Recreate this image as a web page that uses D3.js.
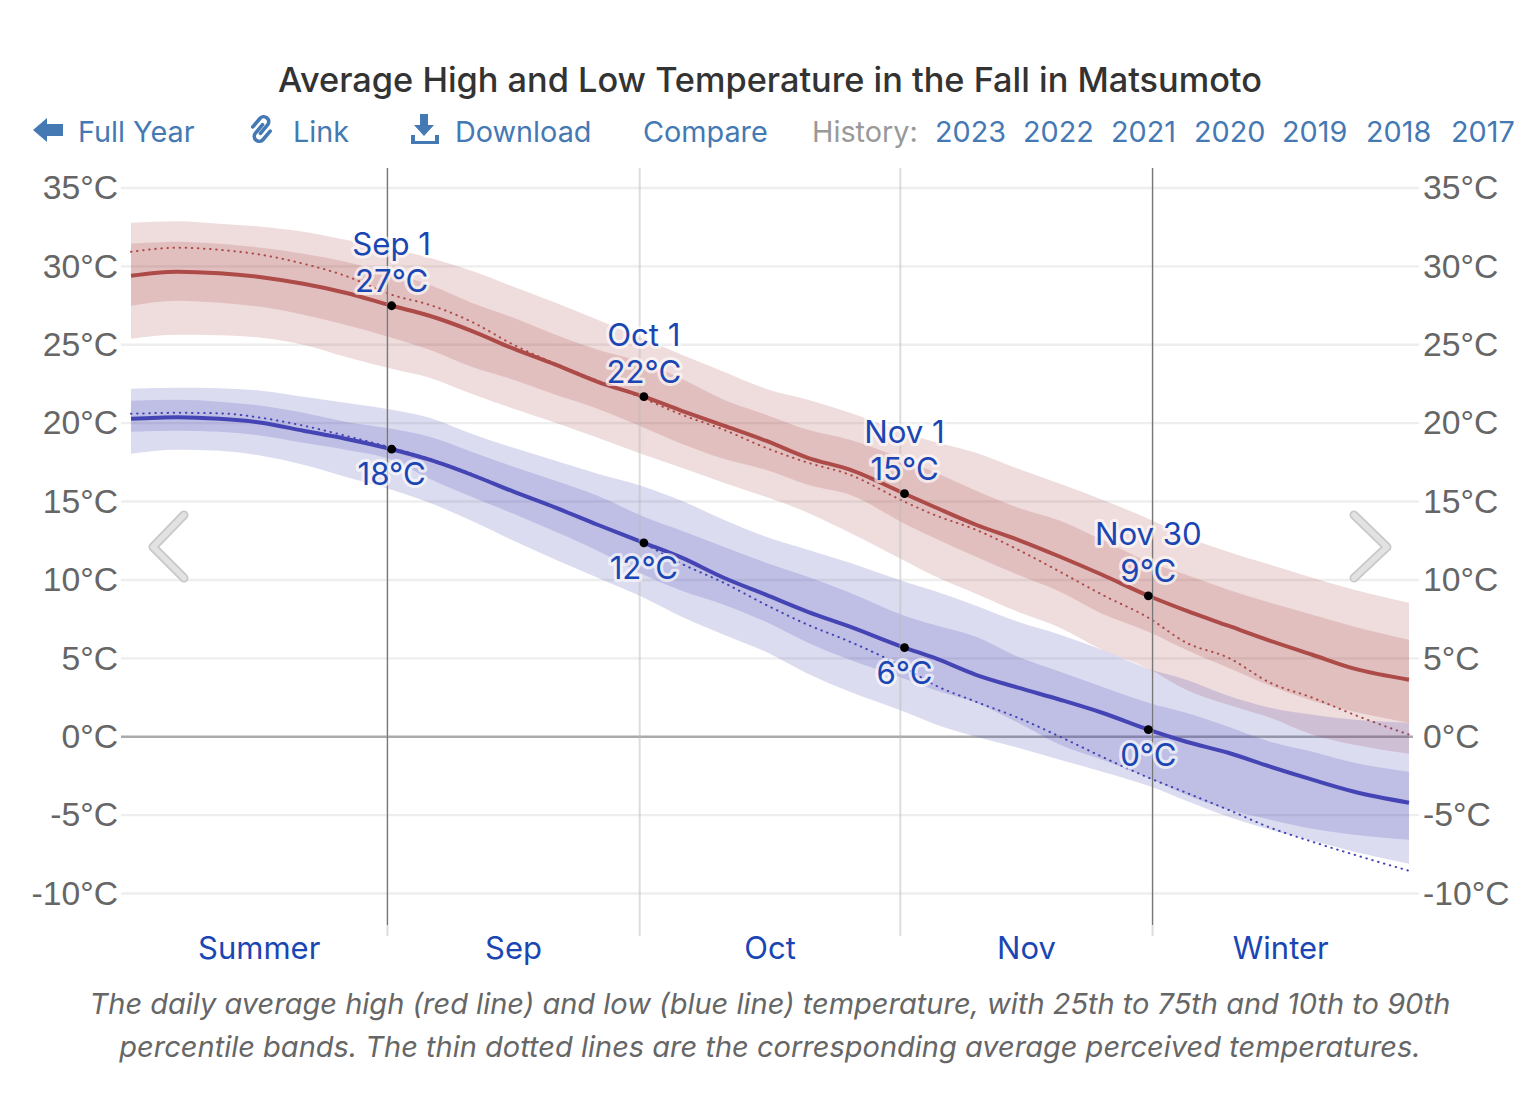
<!DOCTYPE html>
<html>
<head>
<meta charset="utf-8">
<script src="https://cdn.jsdelivr.net/npm/d3@7"></script>
<style>
  body { margin: 0; background: #fff; }
  svg { display: block; font-family: Inter, Roboto, sans-serif; }
  .tick text { fill: #666; font-size: 33.7px; }
  .domain { display: none; }
  .nav { fill: #4479b4; font-size: 28.8px; }
  .note { fill: #1a46b4; font-size: 31.2px; text-anchor: middle; paint-order: stroke; stroke: rgba(255,255,255,.65); stroke-width: 6px; stroke-linejoin: round; }
  .month { fill: #1a46b4; font-size: 31px; text-anchor: middle; }
  .caption { fill: #666; font-size: 29px; font-style: italic; text-anchor: middle; }
</style>
</head>
<body>
<svg id="chart" width="1522" height="1104"></svg>
<script>
// days counted from Sep 1
const days = [-30.5,-25,-20,-15,-10,-5,0.5,5,10,15,20,25,30.5,35,40,45,50,55,61.5,65,70,75,80,85,90.5,95,100,105,110,115,121.5];

const highAvg = [29.40,29.66,29.56,29.31,28.89,28.32,27.49,26.85,25.89,24.75,23.73,22.64,21.69,20.79,19.84,18.88,17.79,17.03,15.50,14.67,13.52,12.56,11.48,10.33,8.99,8.04,7.08,6.12,5.23,4.34,3.64];
const highP75 = [31.44,31.57,31.44,31.19,30.81,30.30,29.53,28.83,27.68,26.72,25.64,24.68,23.85,22.83,21.49,20.54,19.58,18.94,17.67,16.90,15.69,14.61,13.78,12.56,11.16,10.33,9.38,8.55,7.78,7.02,6.19];
const highP90 = [32.78,32.88,32.72,32.53,32.21,31.70,31.13,30.55,29.72,28.70,27.68,26.60,25.38,24.36,23.28,22.20,21.49,20.66,19.39,18.81,18.11,17.09,16.14,15.12,13.90,12.76,11.80,10.97,10.14,9.38,8.55];
const highP25 = [27.49,27.81,27.68,27.42,26.92,26.28,25.45,24.68,23.60,22.77,21.81,20.92,19.71,18.69,17.73,17.03,16.07,15.43,13.59,12.69,11.48,10.33,9.25,7.84,6.70,5.55,4.40,3.25,2.30,1.59,0.89];
const highP10 = [25.38,25.64,25.61,25.45,25.00,24.24,23.47,22.90,21.88,20.92,20.03,19.07,17.99,17.16,16.20,15.30,14.29,13.01,11.23,10.27,9.12,7.97,6.95,5.55,4.34,3.00,2.04,1.21,0.13,-0.51,-1.08];
const highFeel = [30.93,31.19,31.06,30.74,30.17,29.40,28.19,27.55,26.47,25.00,23.79,22.71,21.56,20.54,19.58,18.43,17.48,16.71,14.99,14.16,13.20,11.93,10.52,9.06,7.59,6.00,5.04,3.44,2.49,1.40,0.13];

const lowAvg = [20.28,20.38,20.28,20.03,19.52,19.01,18.34,17.67,16.71,15.63,14.61,13.52,12.37,11.42,10.14,9.06,7.97,7.02,5.68,5.04,3.95,3.13,2.36,1.53,0.45,-0.32,-1.02,-1.91,-2.74,-3.51,-4.21];
const lowP75 = [21.43,21.49,21.37,21.11,20.66,20.09,19.64,19.13,18.18,17.22,16.33,15.37,14.03,13.14,12.12,11.10,10.20,9.18,7.72,7.14,6.38,5.10,4.15,3.19,2.17,1.53,0.64,-0.32,-0.96,-1.66,-2.23];
const lowP90 = [22.20,22.26,22.23,22.07,21.69,21.30,20.86,20.35,19.33,18.43,17.60,16.77,15.95,15.05,13.84,12.76,11.93,11.10,9.89,9.31,8.36,7.33,6.51,5.55,4.34,3.64,2.61,1.85,1.40,1.08,0.89];
const lowP25 = [19.45,19.52,19.45,19.20,18.75,18.31,17.67,16.46,15.31,14.22,13.07,11.86,10.33,9.31,8.42,7.33,6.00,4.91,3.70,3.00,2.17,0.89,-0.51,-1.47,-2.61,-3.70,-4.66,-5.29,-5.87,-6.25,-6.57];
const lowP10 = [18.05,18.31,18.24,17.92,17.35,16.58,15.75,14.92,13.78,12.50,11.29,10.14,8.87,7.65,6.51,5.42,4.02,2.87,1.59,0.83,0,-0.70,-1.47,-2.23,-3.13,-4.08,-5.10,-5.93,-6.63,-7.33,-8.10];
const lowFeel = [20.60,20.66,20.63,20.34,19.84,19.20,18.43,17.73,16.77,15.63,14.61,13.52,12.31,11.03,9.82,8.42,7.14,6.06,4.40,3.32,2.23,1.21,0,-1.28,-2.61,-3.57,-4.66,-5.80,-6.70,-7.53,-8.55];

const tempTicks = [35,30,25,20,15,10,5,0,-5,-10];
const monthEdges = [-30.5,0,30,61,91,121.5];
const monthNames = ['Summer','Sep','Oct','Nov','Winter'];
const noteDays = [0.5,30.5,61.5,90.5];
const noteDates = ['Sep 1','Oct 1','Nov 1','Nov 30'];
const noteHighs = [27.49,21.69,15.50,8.99];
const noteLows = [18.34,12.37,5.68,0.45];
const noteHighText = ['27°C','22°C','15°C','9°C'];
const noteLowText = ['18°C','12°C','6°C','0°C'];
const years = [2023,2022,2021,2020,2019,2018,2017];
const yearX = [935,1023,1111,1194,1282,1366,1451];

const svg = d3.select('#chart');
const x = d3.scaleLinear().domain([-30.5,121.5]).range([131,1409]);
const y = d3.scaleLinear().domain([35,-10]).range([188,893.5]);

const fmt = (d) => `${d}°C`;

// grid
svg.append('g').selectAll('line').data(tempTicks).join('line')
    .attr('x1', 121).attr('x2', (d) => d === 0 ? 1413 : 1419)
    .attr('y1', (d) => y(d)).attr('y2', (d) => y(d))
    .attr('stroke', (d) => d === 0 ? '#aaa' : '#eee')
    .attr('stroke-width', 2.4);

const area = (lo, hi) => d3.area()
    .x((d) => x(d))
    .y0((d, i) => y(lo[i]))
    .y1((d, i) => y(hi[i]))
    .curve(d3.curveMonotoneX)(days);
const line = (vals) => d3.line()
    .x((d) => x(d))
    .y((d, i) => y(vals[i]))
    .curve(d3.curveMonotoneX)(days);

function drawSeries(color, lineColor, avg, p25, p75, p10, p90, feel) {
    svg.append('path').attr('d', area(p10, p90)).attr('fill', color).attr('fill-opacity', 0.18);
    svg.append('path').attr('d', area(p25, p75)).attr('fill', color).attr('fill-opacity', 0.18);
    svg.append('path').attr('d', line(feel)).attr('fill', 'none').attr('stroke', lineColor)
        .attr('stroke-width', 2).attr('stroke-linecap', 'round').attr('stroke-dasharray', '0.5 5.6');
    svg.append('path').attr('d', line(avg)).attr('fill', 'none').attr('stroke', lineColor).attr('stroke-width', 4);
}
drawSeries('#a83c3c', '#ad4b48', highAvg, highP25, highP75, highP10, highP90, highFeel);
drawSeries('#3c3cb4', '#4444b4', lowAvg, lowP25, lowP75, lowP10, lowP90, lowFeel);

// month dividers, outer two are darker
const dividers = monthEdges.slice(1, -1);
svg.append('g').selectAll('line').data(dividers).join('line')
    .attr('x1', (d) => x(d)).attr('x2', (d) => x(d))
    .attr('y1', 168).attr('y2', 936)
    .attr('stroke', '#bbb').attr('stroke-opacity', 0.5).attr('stroke-width', 2);
svg.append('g').selectAll('line').data([dividers[0], dividers[3]]).join('line')
    .attr('x1', (d) => x(d)).attr('x2', (d) => x(d))
    .attr('y1', 168).attr('y2', 925)
    .attr('stroke', '#777').attr('stroke-width', 1.2);

// axes
svg.append('g').attr('transform', 'translate(118,0)')
    .call(d3.axisLeft(y).tickValues(tempTicks).tickSize(0).tickPadding(0).tickFormat(fmt));
svg.append('g').attr('transform', 'translate(1423,0)')
    .call(d3.axisRight(y).tickValues(tempTicks).tickSize(0).tickPadding(0).tickFormat(fmt));

svg.append('g').selectAll('text').data(monthNames).join('text')
    .attr('class', 'month')
    .attr('x', (d, i) => x((monthEdges[i] + monthEdges[i + 1]) / 2))
    .attr('y', 959)
    .text((d) => d);

// points and their labels
const points = svg.append('g');
[noteHighs, noteLows].forEach((vals) => {
    points.selectAll(null).data(noteDays).join('circle')
        .attr('cx', (d) => x(d))
        .attr('cy', (d, i) => y(vals[i]))
        .attr('r', 4.4)
        .attr('fill', '#000');
});
noteDays.forEach((d, i) => {
    const cx = x(d);
    points.append('text').attr('class', 'note').attr('x', cx).attr('y', y(noteHighs[i]) - 51).text(noteDates[i]);
    points.append('text').attr('class', 'note').attr('x', cx).attr('y', y(noteHighs[i]) - 14).text(noteHighText[i]);
    points.append('text').attr('class', 'note').attr('x', cx).attr('y', y(noteLows[i]) + 36).text(noteLowText[i]);
});

// prev / next arrows
const chevrons = [[[184,515],[153,547],[184,578]], [[1354,515],[1387,547],[1354,578]]];
chevrons.forEach((c) => {
    const p = d3.line()(c);
    svg.append('path').attr('d', p).attr('fill', 'none').attr('stroke', '#c8c8c8').attr('stroke-width', 9).attr('stroke-linecap', 'round').attr('stroke-linejoin', 'round');
    svg.append('path').attr('d', p).attr('fill', 'none').attr('stroke', '#e2e2e2').attr('stroke-width', 5.5).attr('stroke-linecap', 'round').attr('stroke-linejoin', 'round');
});

// title and toolbar
svg.append('text').attr('x', 770).attr('y', 92).attr('text-anchor', 'middle')
    .attr('fill', '#333').attr('font-size', 34.3).attr('font-weight', 500)
    .text('Average High and Low Temperature in the Fall in Matsumoto');

const navY = 142;
[['Full Year', 78], ['Link', 293], ['Download', 455], ['Compare', 643]].forEach(([t, px]) => {
    svg.append('text').attr('class', 'nav').attr('x', px).attr('y', navY).text(t);
});
svg.append('text').attr('class', 'nav').attr('x', 812).attr('y', navY).style('fill', '#999').text('History:');
svg.append('g').selectAll('text').data(years).join('text')
    .attr('class', 'nav')
    .attr('x', (d, i) => yearX[i]).attr('y', navY)
    .text((d) => d);

const icons = svg.append('g').attr('fill', '#4479b4');
icons.append('path').attr('d', 'M33 130 L47 118 L47 124 L63 124 L63 136 L47 136 L47 142 Z');
icons.append('path').attr('d', 'M411 135 h4 v6 h20 v-6 h4 v9 h-28 Z M420 114 h8 v11 h6 l-10 11 l-10 -11 h6 Z');
svg.append('path')
    .attr('transform', 'translate(261.5,129) rotate(40)')
    .attr('d', 'M-8 4 V-7 A5 5 0 0 1 2 -7 V4 M-2 -4 V7 A5 5 0 0 0 8 7 V-4')
    .attr('fill', 'none').attr('stroke', '#4479b4').attr('stroke-width', 3.6).attr('stroke-linecap', 'round');

// caption
svg.append('text').attr('class', 'caption').attr('x', 770).attr('y', 1014)
    .text('The daily average high (red line) and low (blue line) temperature, with 25th to 75th and 10th to 90th');
svg.append('text').attr('class', 'caption').attr('x', 770).attr('y', 1057)
    .text('percentile bands. The thin dotted lines are the corresponding average perceived temperatures.');
</script>
</body>
</html>
